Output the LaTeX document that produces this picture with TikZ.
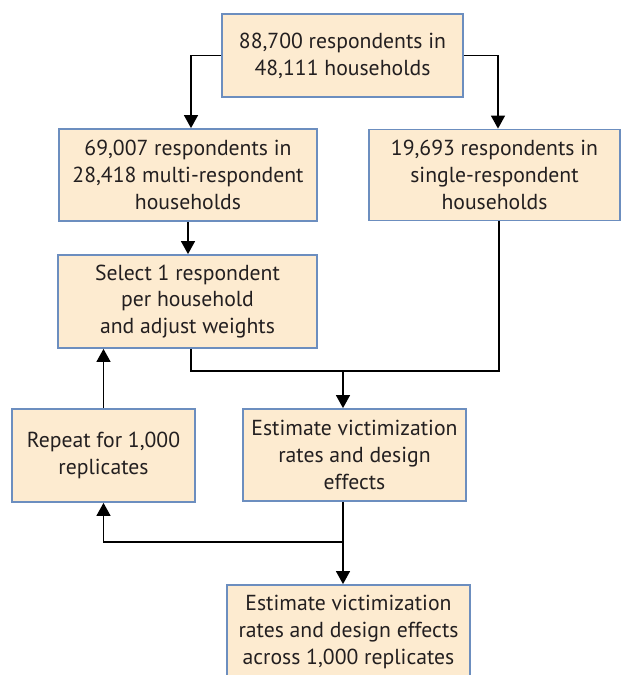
\documentclass[tikz,border=0pt]{standalone}
\usepackage{fontspec}
\setmainfont{PT Sans}
\usetikzlibrary{arrows.meta,calc}
\definecolor{boxfill}{HTML}{FDEBD0}
\definecolor{boxdraw}{HTML}{6C8EBF}
\definecolor{textcol}{HTML}{231F20}
\tikzset{
  stepbox/.style={draw=boxdraw, fill=boxfill, line width=1.8pt, align=center, inner sep=0pt,
    text=textcol, font=\fontsize{21.7}{26.8}\selectfont},
  conn/.style={line width=1.3pt, draw=black},
  arr/.style={conn, -{Triangle[width=14pt,length=13pt]}}
}
\begin{document}
\begin{tikzpicture}[x=1pt,y=-1pt]
\useasboundingbox (0,0) rectangle (624,675);
\begin{scope}
\clip (0,0) rectangle (624,675);
\node[stepbox, minimum width=241pt, minimum height=83pt] (top) at (342.5,55.5) {88,700 respondents in\\48,111 households};
\node[stepbox, minimum width=258pt, minimum height=92pt] (multi) at (188,175) {69,007 respondents in\\28,418 multi-respondent\\households};
\node[stepbox, minimum width=251pt, minimum height=91pt] (single) at (494.5,175) {19,693 respondents in\\single-respondent\\households};
\node[stepbox, minimum width=259pt, minimum height=93pt] (select) at (187.5,301.5) {Select 1 respondent\\per household\\and adjust weights};
\node[stepbox, minimum width=183pt, minimum height=93pt] (repeat) at (103.5,455.5) {Repeat for 1,000\\replicates};
\node[stepbox, minimum width=223pt, minimum height=92pt] (est) at (354.5,455) {Estimate victimization\\rates and design\\effects};
\node[stepbox, minimum width=243pt, minimum height=94pt] (final) at (348.5,632) {Estimate victimization\\rates and design effects\\across 1,000 replicates};
\end{scope}
\coordinate (j1) at (343,371);
\coordinate (j2) at (343,542);
\coordinate (sx) at (191,0);
\draw[arr] (top.west) -| (sx |- multi.north);
\draw[arr] (top.east) -| ([xshift=3.5pt]single.north);
\draw[arr] (multi.south) -- (multi.south |- select.north);
\draw[conn] ([xshift=4.5pt]single.south) |- (j1);
\draw[conn] (sx |- select.south) |- (j1);
\draw[arr] (j1) -- (j1 |- est.north);
\draw[arr] (repeat.north) -- (repeat.north |- select.south);
\draw[arr] (j1 |- est.south) -- (j1 |- final.north);
\draw[arr] (j2) -| (repeat.south);
\end{tikzpicture}
\end{document}
